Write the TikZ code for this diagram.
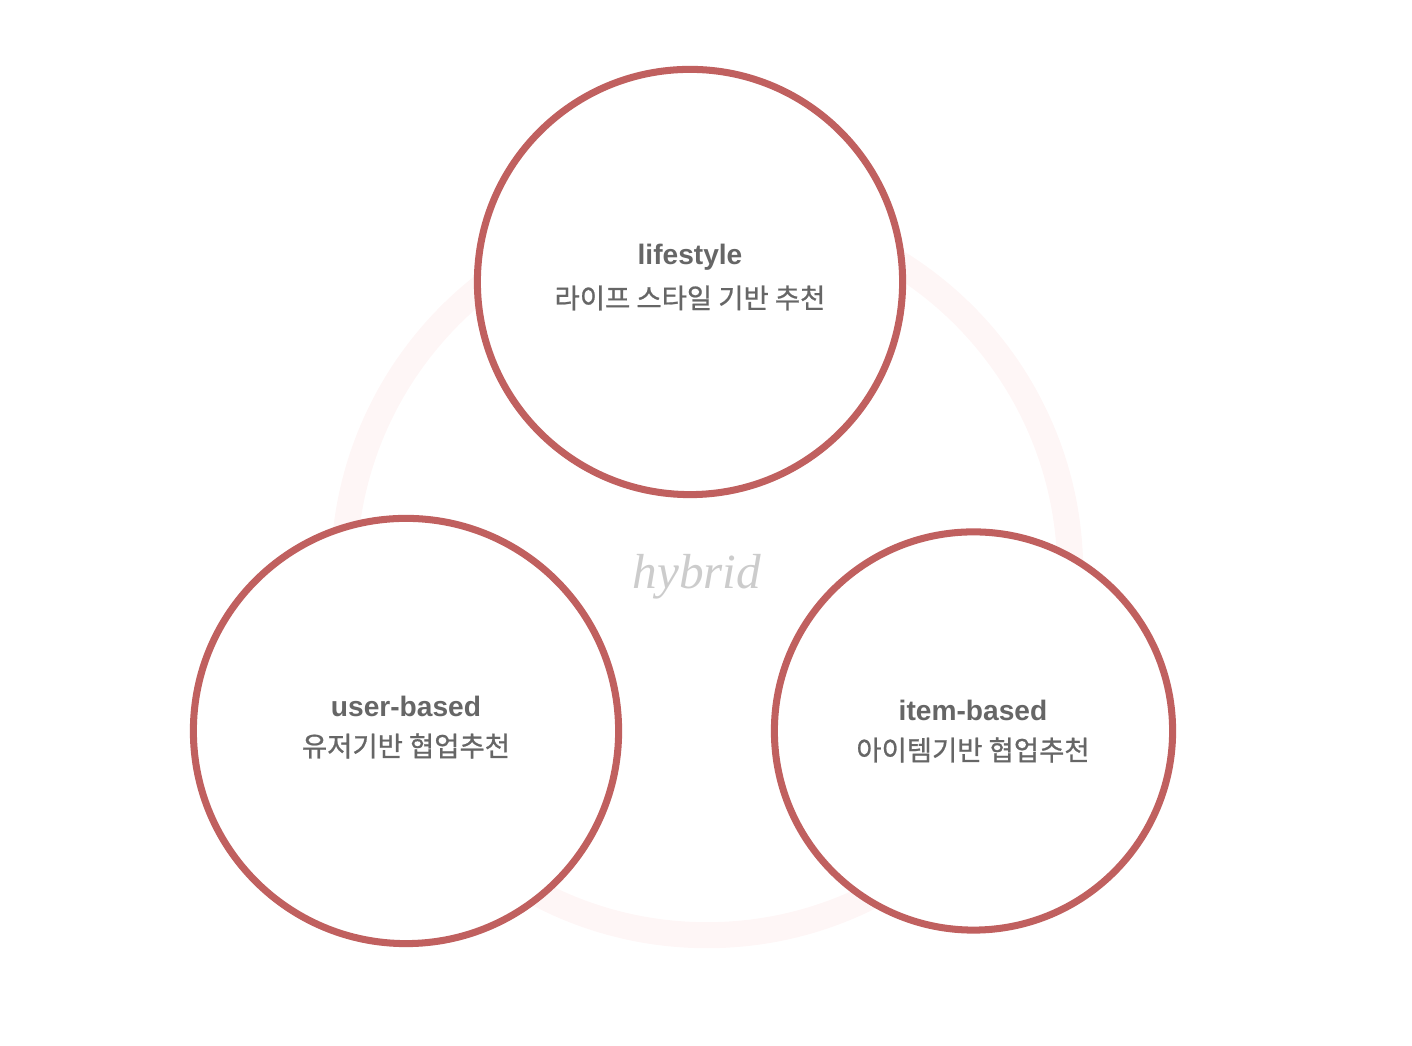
\documentclass[tikz,border=0pt]{standalone}
\usepackage{fontspec}
\setmainfont{Liberation Serif}
\setsansfont{Liberation Sans}
\newfontfamily\kr[FakeBold=0.8]{Noto Sans CJK KR}
\definecolor{brick}{HTML}{C0605F}
\definecolor{ringpink}{HTML}{FEF6F6}
\definecolor{labelgray}{HTML}{666666}
\definecolor{hybridgray}{HTML}{CCCCCC}
\tikzset{
  bubble/.style={circle, draw=brick, fill=white, line width=2pt, inner sep=0pt},
  title/.style={text=labelgray, font=\sffamily\bfseries\fontsize{8}{9}\selectfont},
  sub/.style={text=labelgray, font=\kr\fontsize{7.8}{9}\selectfont},
}
\begin{document}
\begin{tikzpicture}[x=0.01cm, y=0.01cm]

    \def\Rbig{4.25cm} % diametro de los circulos grandes
    \def\Rsmall{3.98cm} % diametro del circulo derecho

    % Fondo
    \useasboundingbox (0,0) rectangle (1412,1046);

    % Dibujar el anillo hibrido
    \node[circle, draw=ringpink, line width=7.4pt, minimum size=7.26cm, inner sep=0pt] (ring) at (707,474) {};
    \node[text=hybridgray, font=\itshape\fontsize{14}{16}\selectfont] (hybrid) at (697,469) {hybrid};

    % Dibujar los tres circulos
    \node[bubble, minimum size=\Rbig] (life) at (690,764) {};
    \node[bubble, minimum size=\Rbig] (user) at (406,315) {};
    \node[bubble, minimum size=\Rsmall] (item) at (973.5,315) {};

    % Etiquetas
    \node[title] (lifeT) at (690,789) {lifestyle};
    \node[sub] (lifeS) at (690,748) {라이프 스타일 기반 추천};
    \node[title] (userT) at (406,340) {user-based};
    \node[sub] (userS) at (406,300) {유저기반 협업추천};
    \node[title] (itemT) at (973,336) {item-based};
    \node[sub] (itemS) at (973,296) {아이템기반 협업추천};

\end{tikzpicture}
\end{document}
